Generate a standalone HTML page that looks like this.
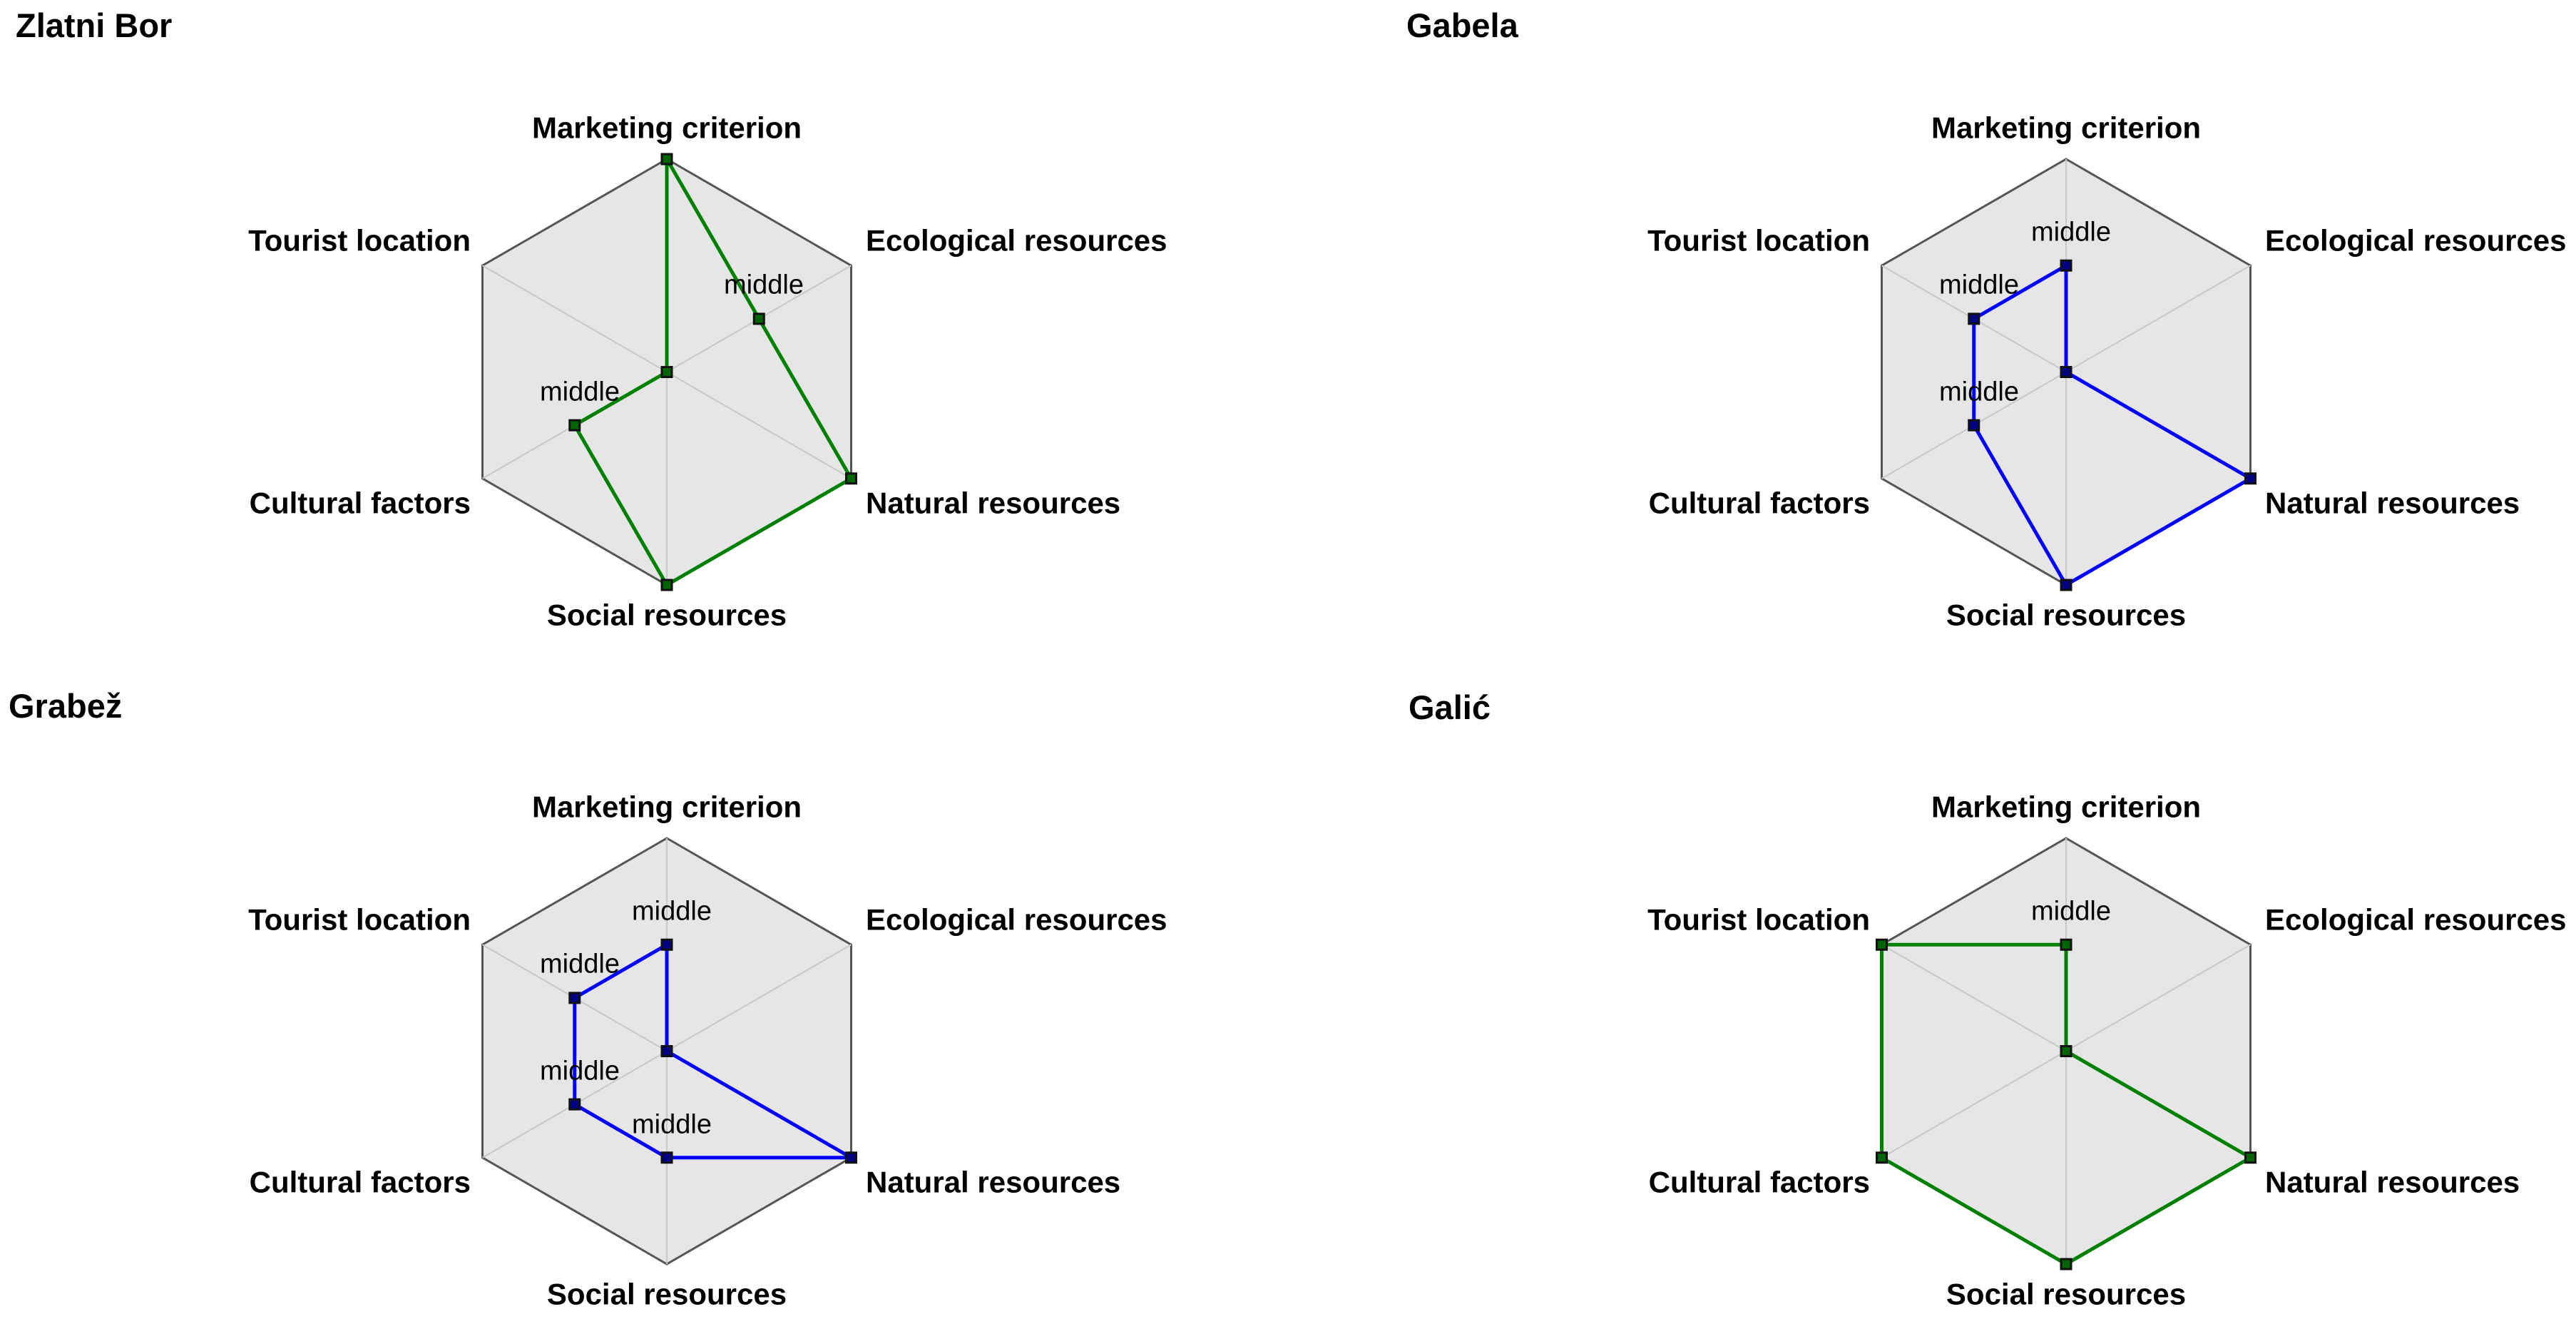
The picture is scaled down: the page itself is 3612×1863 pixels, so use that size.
<!DOCTYPE html>
<html><head><meta charset="utf-8"><style>
html,body{margin:0;padding:0;background:#fff;}
svg{display:block;}
text{font-family:"Liberation Sans",Arial,sans-serif;fill:#000;}
.t{font-weight:bold;font-size:47px;}
.l{font-weight:bold;font-size:42px;}
.m{font-size:38px;}
.hex{fill:#e6e6e6;stroke:#555;stroke-width:3;}
.sp{stroke:#c8c8c8;stroke-width:2;}
.g{fill:none;stroke:#008000;stroke-width:5;stroke-linejoin:round;}
.b{fill:none;stroke:#0000ff;stroke-width:5;stroke-linejoin:round;}
.gm{fill:#006400;stroke:#111;stroke-width:3;}
.bm{fill:#000080;stroke:#111;stroke-width:3;}
</style></head><body>
<svg width="3612" height="1863" viewBox="0 0 3612 1863" xmlns="http://www.w3.org/2000/svg">
<defs>
<g id="base">
<polygon class="hex" points="0,-298.5 258.5,-149.25 258.5,149.25 0,298.5 -258.5,149.25 -258.5,-149.25"/>
<line class="sp" x1="0" y1="-298.5" x2="0" y2="298.5"/>
<line class="sp" x1="258.5" y1="-149.25" x2="-258.5" y2="149.25"/>
<line class="sp" x1="258.5" y1="149.25" x2="-258.5" y2="-149.25"/>
</g>
</defs>

<text class="t" x="22" y="52">Zlatni Bor</text>
<text class="t" x="1972" y="52">Gabela</text>
<text class="t" x="12" y="1006">Grabež</text>
<text class="t" x="1975" y="1008">Galić</text>

<!-- Chart 1: Zlatni Bor -->
<g transform="translate(935,521.5)">
<use href="#base"/>
<text class="l" x="0" y="-328" text-anchor="middle">Marketing criterion</text>
<text class="l" x="-275" y="-170" text-anchor="end">Tourist location</text>
<text class="l" x="279" y="-170">Ecological resources</text>
<text class="l" x="-275" y="198" text-anchor="end">Cultural factors</text>
<text class="l" x="279" y="198">Natural resources</text>
<text class="l" x="0" y="355" text-anchor="middle">Social resources</text>
<polygon class="g" points="0,-298.5 129.25,-74.6 258.5,149.25 0,298.5 -129.25,74.6 0,0"/>
<rect class="gm" x="-7" y="-305.5" width="14" height="14"/>
<rect class="gm" x="122.25" y="-81.6" width="14" height="14"/>
<rect class="gm" x="251.5" y="142.25" width="14" height="14"/>
<rect class="gm" x="-7" y="291.5" width="14" height="14"/>
<rect class="gm" x="-136.25" y="67.6" width="14" height="14"/>
<rect class="gm" x="-7" y="-7" width="14" height="14"/>
<text class="m" x="136" y="-110" text-anchor="middle">middle</text>
<text class="m" x="-122" y="40" text-anchor="middle">middle</text>
</g>

<!-- Chart 2: Gabela -->
<g transform="translate(2897,521.5)">
<use href="#base"/>
<text class="l" x="0" y="-328" text-anchor="middle">Marketing criterion</text>
<text class="l" x="-275" y="-170" text-anchor="end">Tourist location</text>
<text class="l" x="279" y="-170">Ecological resources</text>
<text class="l" x="-275" y="198" text-anchor="end">Cultural factors</text>
<text class="l" x="279" y="198">Natural resources</text>
<text class="l" x="0" y="355" text-anchor="middle">Social resources</text>
<polygon class="b" points="0,-149.25 0,0 258.5,149.25 0,298.5 -129.25,74.6 -129.25,-74.6"/>
<rect class="bm" x="-7" y="-156.25" width="14" height="14"/>
<rect class="bm" x="-7" y="-7" width="14" height="14"/>
<rect class="bm" x="251.5" y="142.25" width="14" height="14"/>
<rect class="bm" x="-7" y="291.5" width="14" height="14"/>
<rect class="bm" x="-136.25" y="67.6" width="14" height="14"/>
<rect class="bm" x="-136.25" y="-81.6" width="14" height="14"/>
<text class="m" x="7" y="-184" text-anchor="middle">middle</text>
<text class="m" x="-122" y="-110" text-anchor="middle">middle</text>
<text class="m" x="-122" y="40" text-anchor="middle">middle</text>
</g>

<!-- Chart 3: Grabež -->
<g transform="translate(935,1473.5)">
<use href="#base"/>
<text class="l" x="0" y="-328" text-anchor="middle">Marketing criterion</text>
<text class="l" x="-275" y="-170" text-anchor="end">Tourist location</text>
<text class="l" x="279" y="-170">Ecological resources</text>
<text class="l" x="-275" y="198" text-anchor="end">Cultural factors</text>
<text class="l" x="279" y="198">Natural resources</text>
<text class="l" x="0" y="355" text-anchor="middle">Social resources</text>
<polygon class="b" points="0,-149.25 0,0 258.5,149.25 0,149.25 -129.25,74.6 -129.25,-74.6"/>
<rect class="bm" x="-7" y="-156.25" width="14" height="14"/>
<rect class="bm" x="-7" y="-7" width="14" height="14"/>
<rect class="bm" x="251.5" y="142.25" width="14" height="14"/>
<rect class="bm" x="-7" y="142.25" width="14" height="14"/>
<rect class="bm" x="-136.25" y="67.6" width="14" height="14"/>
<rect class="bm" x="-136.25" y="-81.6" width="14" height="14"/>
<text class="m" x="7" y="-184" text-anchor="middle">middle</text>
<text class="m" x="-122" y="-110" text-anchor="middle">middle</text>
<text class="m" x="-122" y="40" text-anchor="middle">middle</text>
<text class="m" x="7" y="115" text-anchor="middle">middle</text>
</g>

<!-- Chart 4: Galić -->
<g transform="translate(2897,1473.5)">
<use href="#base"/>
<text class="l" x="0" y="-328" text-anchor="middle">Marketing criterion</text>
<text class="l" x="-275" y="-170" text-anchor="end">Tourist location</text>
<text class="l" x="279" y="-170">Ecological resources</text>
<text class="l" x="-275" y="198" text-anchor="end">Cultural factors</text>
<text class="l" x="279" y="198">Natural resources</text>
<text class="l" x="0" y="355" text-anchor="middle">Social resources</text>
<polygon class="g" points="0,-149.25 0,0 258.5,149.25 0,298.5 -258.5,149.25 -258.5,-149.25"/>
<rect class="gm" x="-7" y="-156.25" width="14" height="14"/>
<rect class="gm" x="-7" y="-7" width="14" height="14"/>
<rect class="gm" x="251.5" y="142.25" width="14" height="14"/>
<rect class="gm" x="-7" y="291.5" width="14" height="14"/>
<rect class="gm" x="-265.5" y="142.25" width="14" height="14"/>
<rect class="gm" x="-265.5" y="-156.25" width="14" height="14"/>
<text class="m" x="7" y="-184" text-anchor="middle">middle</text>
</g>
</svg>
</body></html>
